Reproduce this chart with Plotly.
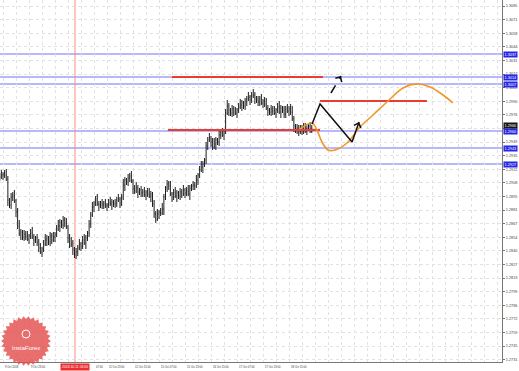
import math
import plotly.graph_objects as go

# ---------------- data ----------------
bar_index = list(range(-2, 191))  # hourly bars, 0 = 9 Oct 07:00

open_ = [1.2915,1.2914,1.2916,1.2917,1.2916,1.2912,1.2891,1.2886,1.2894,1.2896,
1.2890,1.2879,1.2865,1.2857,1.2859,1.2854,1.2857,1.2855,1.2852,1.2855,
1.2858,1.2854,1.2851,1.2853,1.2849,1.2843,1.2839,1.2842,1.2847,1.2851,
1.2853,1.2849,1.2855,1.2851,1.2854,1.2857,1.2862,1.2865,1.2869,1.2866,
1.2871,1.2868,1.2864,1.2853,1.2846,1.2848,1.2842,1.2836,1.2839,1.2843,
1.2847,1.2845,1.2851,1.2848,1.2853,1.2858,1.2867,1.2876,1.2884,1.2888,
1.2891,1.2887,1.2886,1.2888,1.2886,1.2887,1.2885,1.2886,1.2888,1.2887,
1.2889,1.2887,1.2888,1.2891,1.2892,1.2888,1.2893,1.2906,1.2911,1.2909,
1.2913,1.2915,1.2910,1.2902,1.2900,1.2903,1.2899,1.2901,1.2898,1.2899,
1.2896,1.2899,1.2897,1.2895,1.2897,1.2887,1.2877,1.2872,1.2877,1.2879,
1.2878,1.2882,1.2894,1.2903,1.2907,1.2905,1.2897,1.2894,1.2898,1.2895,
1.2898,1.2895,1.2899,1.2897,1.2901,1.2898,1.2900,1.2897,1.2903,1.2905,
1.2906,1.2905,1.2911,1.2916,1.2921,1.2924,1.2927,1.2931,1.2945,1.2951,
1.2953,1.2949,1.2944,1.2947,1.2951,1.2949,1.2956,1.2958,1.2956,1.2960,
1.2978,1.2985,1.2981,1.2978,1.2982,1.2979,1.2978,1.2981,1.2984,1.2986,
1.2988,1.2985,1.2989,1.2992,1.2994,1.2991,1.2995,1.2996,1.2993,1.2991,
1.2989,1.2992,1.2988,1.2990,1.2987,1.2983,1.2981,1.2979,1.2982,1.2980,
1.2978,1.2981,1.2984,1.2979,1.2983,1.2981,1.2977,1.2982,1.2980,1.2983,
1.2979,1.2972,1.2965,1.2961,1.2963,1.2959,1.2961,1.2964,1.2960,1.2962,
1.2963,1.2965,1.2962]

high = [1.2918,1.2921,1.2919,1.2921,1.2922,1.2915,1.2893,1.2898,1.2899,1.2901,
1.2892,1.2883,1.2871,1.2862,1.2861,1.2861,1.2860,1.2860,1.2857,1.2862,
1.2864,1.2857,1.2855,1.2857,1.2852,1.2848,1.2844,1.2851,1.2857,1.2856,
1.2855,1.2859,1.2858,1.2859,1.2859,1.2866,1.2871,1.2872,1.2871,1.2875,
1.2874,1.2873,1.2866,1.2857,1.2854,1.2851,1.2844,1.2843,1.2846,1.2852,
1.2849,1.2855,1.2857,1.2856,1.2860,1.2871,1.2879,1.2889,1.2890,1.2895,
1.2897,1.2890,1.2890,1.2892,1.2890,1.2892,1.2888,1.2892,1.2894,1.2892,
1.2891,1.2892,1.2894,1.2897,1.2894,1.2897,1.2912,1.2914,1.2913,1.2917,
1.2918,1.2920,1.2912,1.2906,1.2909,1.2906,1.2903,1.2905,1.2902,1.2904,
1.2901,1.2903,1.2903,1.2900,1.2899,1.2891,1.2880,1.2882,1.2881,1.2883,
1.2888,1.2897,1.2905,1.2911,1.2910,1.2910,1.2899,1.2902,1.2904,1.2901,
1.2900,1.2903,1.2902,1.2906,1.2903,1.2904,1.2906,1.2906,1.2907,1.2910,
1.2909,1.2916,1.2918,1.2925,1.2930,1.2930,1.2933,1.2949,1.2954,1.2958,
1.2955,1.2953,1.2953,1.2954,1.2953,1.2960,1.2961,1.2963,1.2962,1.2982,
1.2991,1.2988,1.2983,1.2986,1.2985,1.2984,1.2983,1.2988,1.2992,1.2991,
1.2990,1.2993,1.2995,1.2999,1.2996,1.2999,1.3002,1.2999,1.2995,1.2995,
1.2995,1.2997,1.2992,1.2994,1.2993,1.2986,1.2983,1.2986,1.2985,1.2985,
1.2983,1.2988,1.2990,1.2986,1.2985,1.2985,1.2985,1.2987,1.2985,1.2987,
1.2985,1.2975,1.2967,1.2967,1.2966,1.2966,1.2966,1.2968,1.2968,1.2966,
1.2967,1.2969,1.2966]

low = [1.2910,1.2912,1.2911,1.2913,1.2910,1.2885,1.2883,1.2882,1.2890,1.2888,
1.2874,1.2862,1.2855,1.2851,1.2851,1.2850,1.2851,1.2850,1.2847,1.2852,
1.2852,1.2845,1.2848,1.2845,1.2839,1.2837,1.2834,1.2839,1.2845,1.2845,
1.2846,1.2845,1.2847,1.2849,1.2849,1.2854,1.2860,1.2859,1.2863,1.2862,
1.2864,1.2862,1.2848,1.2843,1.2844,1.2836,1.2833,1.2832,1.2835,1.2841,
1.2840,1.2842,1.2846,1.2842,1.2850,1.2854,1.2863,1.2874,1.2879,1.2885,
1.2885,1.2880,1.2883,1.2882,1.2882,1.2883,1.2880,1.2883,1.2885,1.2881,
1.2884,1.2883,1.2884,1.2889,1.2883,1.2885,1.2891,1.2900,1.2906,1.2905,
1.2909,1.2908,1.2897,1.2897,1.2898,1.2893,1.2896,1.2894,1.2894,1.2894,
1.2891,1.2894,1.2893,1.2889,1.2884,1.2873,1.2868,1.2870,1.2872,1.2875,
1.2876,1.2876,1.2891,1.2899,1.2901,1.2895,1.2889,1.2891,1.2893,1.2889,
1.2892,1.2891,1.2893,1.2895,1.2893,1.2895,1.2895,1.2891,1.2900,1.2901,
1.2901,1.2903,1.2906,1.2913,1.2919,1.2918,1.2924,1.2927,1.2941,1.2949,
1.2944,1.2941,1.2942,1.2941,1.2946,1.2945,1.2952,1.2954,1.2951,1.2957,
1.2976,1.2975,1.2975,1.2974,1.2975,1.2976,1.2973,1.2978,1.2982,1.2980,
1.2982,1.2981,1.2985,1.2990,1.2986,1.2988,1.2993,1.2987,1.2988,1.2985,
1.2985,1.2986,1.2983,1.2984,1.2981,1.2975,1.2976,1.2975,1.2976,1.2976,
1.2973,1.2978,1.2977,1.2973,1.2978,1.2973,1.2973,1.2978,1.2975,1.2976,
1.2970,1.2959,1.2958,1.2957,1.2955,1.2957,1.2956,1.2957,1.2958,1.2956,
1.2960,1.2958,1.2958]

close = [1.2914,1.2916,1.2917,1.2916,1.2912,1.2891,1.2886,1.2894,1.2896,1.2890,
1.2879,1.2865,1.2857,1.2859,1.2854,1.2857,1.2855,1.2852,1.2855,1.2858,
1.2854,1.2851,1.2853,1.2849,1.2843,1.2839,1.2842,1.2847,1.2851,1.2853,
1.2849,1.2855,1.2851,1.2854,1.2857,1.2862,1.2865,1.2869,1.2866,1.2871,
1.2868,1.2864,1.2853,1.2846,1.2848,1.2842,1.2836,1.2839,1.2843,1.2847,
1.2845,1.2851,1.2848,1.2853,1.2858,1.2867,1.2876,1.2884,1.2888,1.2891,
1.2887,1.2886,1.2888,1.2886,1.2887,1.2885,1.2886,1.2888,1.2887,1.2889,
1.2887,1.2888,1.2891,1.2892,1.2888,1.2893,1.2906,1.2911,1.2909,1.2913,
1.2915,1.2910,1.2902,1.2900,1.2903,1.2899,1.2901,1.2898,1.2899,1.2896,
1.2899,1.2897,1.2895,1.2897,1.2887,1.2877,1.2872,1.2877,1.2879,1.2878,
1.2882,1.2894,1.2903,1.2907,1.2905,1.2897,1.2894,1.2898,1.2895,1.2898,
1.2895,1.2899,1.2897,1.2901,1.2898,1.2900,1.2897,1.2903,1.2905,1.2906,
1.2905,1.2911,1.2916,1.2921,1.2924,1.2927,1.2931,1.2945,1.2951,1.2953,
1.2949,1.2944,1.2947,1.2951,1.2949,1.2956,1.2958,1.2956,1.2960,1.2978,
1.2985,1.2981,1.2978,1.2982,1.2979,1.2978,1.2981,1.2984,1.2986,1.2988,
1.2985,1.2989,1.2992,1.2994,1.2991,1.2995,1.2996,1.2993,1.2991,1.2989,
1.2992,1.2988,1.2990,1.2987,1.2983,1.2981,1.2979,1.2982,1.2980,1.2978,
1.2981,1.2984,1.2979,1.2983,1.2981,1.2977,1.2982,1.2980,1.2983,1.2979,
1.2972,1.2965,1.2961,1.2963,1.2959,1.2961,1.2964,1.2960,1.2962,1.2963,
1.2965,1.2962,1.2963]

# horizontal support / resistance levels (blue) and their labels
blue_levels = [1.3037, 1.3014, 1.3007, 1.2960, 1.2943, 1.2927]
blue_labels = ["1.3037", "1.3014", "1.3007", "1.2960", "1.2943", "1.2927"]
bid_price = 1.2966
bid_label = "1.2966"

# red zone segments: (start bar, end bar, price)
red_start = [104.0, 195.1, 101.5]
red_end = [196.9, 260.9, 195.1]
red_price = [1.3014, 1.2990, 1.2961]

# marked bar (vertical red line)
marker_bar = 44.3
marker_label = "2018.10.11 03:00"

# black forecast path
fc_x = [190.2, 195.1, 214.8, 219.1]
fc_y = [1.2967, 1.2987, 1.2949, 1.2969]
# dashed alternative
alt_x = [201.8, 208.0]
alt_y = [1.2998, 1.3015]

# orange projection curve
proj_x = [182.8, 190.2, 193.2, 196.3, 200.0, 204.3, 211.7, 219.7, 227.7, 236.3, 246.2, 254.8, 262.8, 270.8, 276.9]
proj_y = [1.2962, 1.2968, 1.2961, 1.2949, 1.2941, 1.2941, 1.2948, 1.2964, 1.2976, 1.2989, 1.3003, 1.3007, 1.3004, 1.2996, 1.2988]

# axis ticks
y_tick_vals = [1.3085, 1.30714, 1.30578, 1.30442, 1.30306, 1.3017, 1.30034, 1.29898, 1.29762,
               1.29626, 1.2949, 1.29354, 1.29218, 1.29082, 1.28946, 1.2881, 1.28674, 1.28538,
               1.28402, 1.28266, 1.2813, 1.27994, 1.27858, 1.27722, 1.27586, 1.2745, 1.27314]
y_tick_text = ["1.3085", "1.3071", "1.3058", "1.3044", "1.3031", "1.3017", "1.3003", "1.2990", "1.2976",
               "1.2963", "1.2949", "1.2935", "1.2922", "1.2908", "1.2895", "1.2881", "1.2867", "1.2854",
               "1.2840", "1.2827", "1.2813", "1.2799", "1.2786", "1.2772", "1.2759", "1.2745", "1.2731"]
# visible time labels (the reference's marked-time box hides the date part of "11 Oct 07:00")
x_tick_bars = [0, 16, 56, 64, 80, 96, 112, 128, 144, 160, 176]
x_tick_text = ["9 Oct 2018", "9 Oct 23:00", "07:00", "11 Oct 23:00",
               "12 Oct 15:00", "15 Oct 07:00", "15 Oct 23:00", "16 Oct 15:00", "17 Oct 07:00",
               "17 Oct 23:00", "18 Oct 15:00"]

# ---------------- figure ----------------
W, H = 519, 371
ML, MR, MT, MB = 0, 17, 0, 9
PW, PH = W - ML - MR, H - MT - MB

fig = go.Figure()

fig.add_trace(go.Ohlc(
    x=bar_index, open=open_, high=high, low=low, close=close,
    increasing=dict(line=dict(color="#1e1e1e", width=1)),
    decreasing=dict(line=dict(color="#1e1e1e", width=1)),
    tickwidth=0.25, hoverinfo="skip"))

# red zones
for s, e, p in zip(red_start, red_end, red_price):
    fig.add_trace(go.Scatter(x=[s, e], y=[p, p], mode="lines",
                             line=dict(color="rgb(232,62,50)", width=2), hoverinfo="skip"))

# orange projection
fig.add_trace(go.Scatter(x=proj_x, y=proj_y, mode="lines",
                         line=dict(color="rgb(242,150,40)", width=1.6, shape="spline", smoothing=1.0),
                         hoverinfo="skip"))

# black forecast
fig.add_trace(go.Scatter(x=fc_x, y=fc_y, mode="lines",
                         line=dict(color="#111", width=1.5), hoverinfo="skip"))
fig.add_trace(go.Scatter(x=alt_x, y=alt_y, mode="lines",
                         line=dict(color="#111", width=1.5, dash="dash"), hoverinfo="skip"))

shapes = []
for lv in blue_levels:
    shapes.append(dict(type="line", xref="paper", x0=0, x1=1, yref="y", y0=lv, y1=lv,
                       line=dict(color="rgb(112,112,245)", width=1), layer="below"))
shapes.append(dict(type="line", xref="x", x0=marker_bar, x1=marker_bar, yref="paper", y0=0, y1=1,
                   line=dict(color="rgb(246,140,128)", width=1), layer="below"))

# InstaForex badge (decorative watermark), in pixel space converted to paper
cx, cy, r_out, r_in, teeth = 26, 341, 25, 22, 30
pts = []
for k in range(teeth * 2):
    ang = math.pi * k / teeth
    rr = r_out if k % 2 == 0 else r_in
    px = cx + rr * math.cos(ang)
    py = cy + rr * math.sin(ang)
    pts.append(((px - ML) / PW, 1 - (py - MT) / PH))
path = "M " + " L ".join(f"{a:.5f},{b:.5f}" for a, b in pts) + " Z"
shapes.append(dict(type="path", xref="paper", yref="paper", path=path,
                   fillcolor="rgba(228,78,78,0.82)", line=dict(width=0), layer="above"))
ix, iy = cx, cy - 7
shapes.append(dict(type="circle", xref="paper", yref="paper",
                   x0=(ix - 4) / PW, x1=(ix + 4) / PW, y0=1 - (iy + 4) / PH, y1=1 - (iy - 4) / PH,
                   line=dict(color="white", width=1), fillcolor="rgba(0,0,0,0)", layer="above"))

annotations = []
# x-axis labels (left aligned at bar position)
for b, t in zip(x_tick_bars, x_tick_text):
    annotations.append(dict(x=b, xref="x", y=0, yref="paper", yanchor="top", xanchor="left",
                            text=t, showarrow=False, yshift=-1,
                            font=dict(size=2.7, color="#333", family="Liberation Sans")))
# marked time label
annotations.append(dict(x=marker_bar, xref="x", y=0, yref="paper", yanchor="top", xanchor="center",
                        text=marker_label, showarrow=False, yshift=-1, bgcolor="rgb(236,46,46)",
                        borderpad=1, font=dict(size=3.4, color="white", family="Liberation Sans")))
# price level labels
for lv, t in zip(blue_levels, blue_labels):
    annotations.append(dict(x=1, xref="paper", y=lv, yref="y", xanchor="left", xshift=1,
                            text=t, showarrow=False, bgcolor="rgb(38,38,232)", borderpad=0.6,
                            font=dict(size=3.8, color="white", family="Liberation Sans")))
annotations.append(dict(x=1, xref="paper", y=bid_price, yref="y", xanchor="left", xshift=1,
                        text=bid_label, showarrow=False, bgcolor="#151515", borderpad=0.6,
                        font=dict(size=3.8, color="white", family="Liberation Sans")))
# arrow heads
annotations.append(dict(x=fc_x[-1], y=fc_y[-1], xref="x", yref="y",
                        ax=fc_x[-1] - (fc_x[-1] - fc_x[-2]) * 0.2, ay=fc_y[-1] - (fc_y[-1] - fc_y[-2]) * 0.2,
                        axref="x", ayref="y", showarrow=True, arrowhead=4, arrowsize=1.1,
                        arrowwidth=1.3, arrowcolor="#111", text=""))
annotations.append(dict(x=alt_x[-1], y=alt_y[-1], xref="x", yref="y",
                        ax=alt_x[-1] - (alt_x[-1] - alt_x[0]) * 0.25, ay=alt_y[-1] - (alt_y[-1] - alt_y[0]) * 0.25,
                        axref="x", ayref="y", showarrow=True, arrowhead=4, arrowsize=1.1,
                        arrowwidth=1.3, arrowcolor="#111", text=""))
# badge text
annotations.append(dict(x=(cx - ML) / PW, y=1 - (cy + 7 - MT) / PH, xref="paper", yref="paper",
                        text="InstaForex", showarrow=False, xanchor="center", yanchor="middle",
                        font=dict(size=6, color="white", family="Liberation Sans")))

fig.update_layout(
    width=W, height=H,
    margin=dict(l=ML, r=MR, t=MT, b=MB),
    paper_bgcolor="white", plot_bgcolor="white",
    showlegend=False,
    shapes=shapes, annotations=annotations,
    xaxis=dict(range=[-1.846, 307.08], tick0=0, dtick=8, showticklabels=False,
               showgrid=True, gridcolor="#e2e2e2", griddash="dot", gridwidth=1,
               showline=True, linecolor="#777", linewidth=1, zeroline=False,
               rangeslider=dict(visible=False), fixedrange=True),
    yaxis=dict(range=[1.2729, 1.3091], side="right", tickmode="array",
               tickvals=y_tick_vals, ticktext=y_tick_text,
               tickfont=dict(size=3.8, color="#444", family="Liberation Sans"),
               ticks="outside", ticklen=2, tickcolor="#777",
               showgrid=True, gridcolor="#e2e2e2", griddash="dot", gridwidth=1,
               showline=True, linecolor="#777", linewidth=1, zeroline=False, fixedrange=True),
)

fig.write_html("out.html")
